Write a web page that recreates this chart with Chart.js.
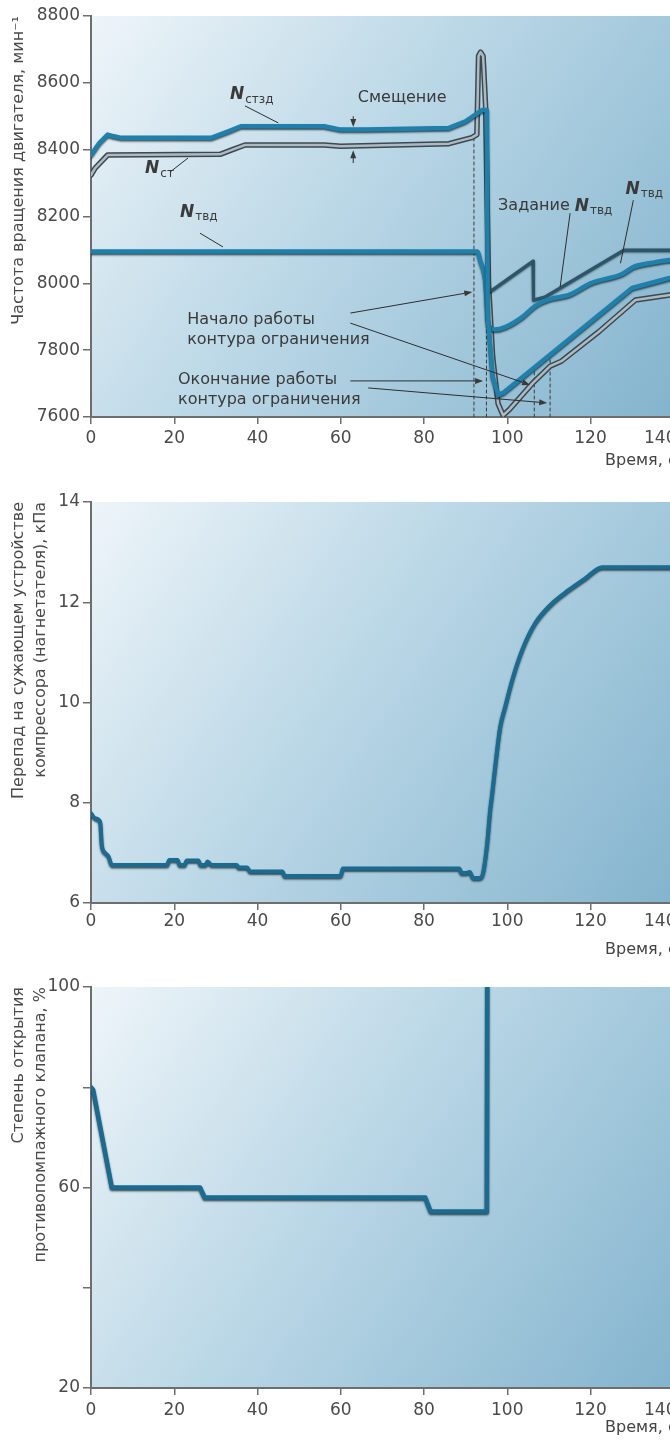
<!DOCTYPE html>
<html>
<head>
<meta charset="utf-8">
<script src="https://cdn.jsdelivr.net/npm/chart.js@4.4.0/dist/chart.umd.min.js"></script>
<style>
html, body { margin: 0; padding: 0; background: #fff; width: 670px; height: 1445px; overflow: hidden; }
.box { position: absolute; left: 0; }
</style>
</head>
<body>
<div class="box" style="top:0px"><canvas id="speedChart" width="780" height="480"></canvas></div>
<div class="box" style="top:480px"><canvas id="dpChart" width="780" height="480"></canvas></div>
<div class="box" style="top:960px"><canvas id="valveChart" width="780" height="485"></canvas></div>
<script>
// ticks
const xTicks = [0, 20, 40, 60, 80, 100, 120, 140];
const speedTicks = [7600, 7800, 8000, 8200, 8400, 8600, 8800];
const dpTicks = [6, 8, 10, 12, 14];
const valveTicks = [20, 40, 60, 80, 100];
const valveLabels = [20, 60, 100];

// N_стзд (setpoint of power turbine speed)
const tStzd = [0, 2, 4, 5.5, 7, 29, 33, 36, 56, 60, 66, 86, 90, 94, 95.1, 95.3, 96.5, 97.8, 99, 130, 139, 160];
const nStzd = [8384, 8420, 8445, 8440, 8436, 8436, 8455, 8470, 8470, 8460, 8460, 8465, 8485, 8519, 8519, 7900, 7720, 7666, 7672, 7986, 8016, 8050];
// N_ст (power turbine speed)
const tSt = [0, 1, 4, 31, 34, 37, 56, 60, 86, 91.5, 92.7, 93.1, 93.6, 94.2, 94.8, 95.5, 96.5, 97.8, 99, 100.5, 106, 110.3, 113, 122, 130.8, 139, 160];
const nSt = [8324, 8345, 8384, 8386, 8400, 8414, 8414, 8410, 8418, 8436, 8445, 8680, 8692, 8680, 8530, 8000, 7780, 7640, 7605, 7622, 7700, 7752, 7767, 7855, 7950, 7965, 7990];
// N_твд
const tTvd = [0, 92.8, 93.6, 94.7, 95.5, 97, 99.5, 103.6, 107, 110, 115, 120, 127.6, 130.5, 135, 139, 160];
const nTvd = [8095, 8095, 8065, 8010, 7875, 7862, 7869, 7899, 7935, 7952, 7966, 8000, 8028, 8050, 8062, 8070, 8090];
// Задание N_твд
const tZad = [95.4, 96.4, 106.2, 106.3, 109, 128, 160];
const nZad = [7975, 7980, 8067, 7950, 7959, 8100, 8100];
// dashed markers of the limiter
const markT = [92, 95, 106.5, 110.3];
const markTop = [8440, 8095, 7745, 7795];

// pressure drop, kPa
const tDp = [0, 1, 2.2, 2.6, 3.4, 4.2, 5, 18.3, 18.8, 20.8, 21.3, 22.5, 23, 25.8, 26.3, 27.5, 28, 29, 35, 35.5, 37.5, 38.2, 46, 46.5, 60, 60.5, 88.5, 89, 90.2, 91, 91.8, 93.4, 94.2, 95.2, 95.9, 96.4, 97.1, 98.3, 99.5, 101.2, 103.6, 106.7, 110.8, 114.7, 118.8, 122.8, 160];
const dp = [7.79, 7.69, 7.62, 7.15, 7.0, 6.93, 6.76, 6.76, 6.86, 6.86, 6.76, 6.76, 6.85, 6.85, 6.76, 6.76, 6.83, 6.76, 6.76, 6.71, 6.71, 6.63, 6.63, 6.54, 6.54, 6.69, 6.69, 6.6, 6.6, 6.62, 6.5, 6.5, 6.6, 7.2, 7.85, 8.19, 8.71, 9.51, 9.91, 10.45, 11.05, 11.58, 11.98, 12.24, 12.48, 12.7, 12.7];

// antisurge valve opening, %
const tValve = [0, 0.5, 5, 26.2, 27.3, 80.3, 81.6, 95.1, 95.2];
const valve = [80, 79.5, 60, 60, 58, 58, 55.2, 55.2, 100];

const FONT = 'DejaVu Sans';
Chart.defaults.font.family = FONT;

function pts(ts, vs) {
    return ts.map(function (t, i) { return {x: t, y: vs[i]}; });
}

// text, leaders and arrows, positions in data units
const notes = {
    speedChart: {
        texts: [
            {x: 23.1, y: 7890, parts: [{s: 'Начало работы'}]},
            {x: 23.1, y: 7830, parts: [{s: 'контура ограничения'}]},
            {x: 20.9, y: 7711, parts: [{s: 'Окончание работы'}]},
            {x: 20.9, y: 7651, parts: [{s: 'контура ограничения'}]},
            {x: 64.1, y: 8555, parts: [{s: 'Смещение'}]},
            {x: 33.4, y: 8564, parts: [{s: 'N', it: true}, {s: 'стзд', sub: true}]},
            {x: 13, y: 8342, parts: [{s: 'N', it: true}, {s: 'ст', sub: true}]},
            {x: 21.4, y: 8213, parts: [{s: 'N', it: true}, {s: 'твд', sub: true}]},
            {x: 97.8, y: 8231, parts: [{s: 'Задание '}, {s: 'N', it: true}, {s: 'твд', sub: true}]},
            {x: 128.4, y: 8282, parts: [{s: 'N', it: true}, {s: 'твд', sub: true}]}
        ],
        lines: [
            [37, 8531, 45, 8480],
            [19, 8333, 23.3, 8375],
            [26.2, 8150, 31.7, 8109],
            [115.1, 8210, 112.7, 7989],
            [130.3, 8249, 127.2, 8060]
        ],
        arrows: [
            [62.3, 7911, 91.6, 7974],
            [62.3, 7881, 105.5, 7696],
            [62.3, 7708, 94.2, 7708],
            [66.6, 7687, 109.6, 7642],
            [63, 8500, 63, 8468],
            [63, 8360, 63, 8398]
        ],
        axisTitleX: 123.5, axisTitleY: 461
    },
    dpChart: {axisTitleX: 123.5, axisTitleY: 470},
    valveChart: {axisTitleX: 123.5, axisTitleY: 468}
};

const backdrop = {
    id: 'backdrop',
    beforeDraw(chart) {
        const {ctx, chartArea: a} = chart;
        const g = ctx.createLinearGradient(a.left, a.top, 670, a.bottom);
        g.addColorStop(0, '#eef5f9');
        g.addColorStop(0.45, '#bad7e6');
        g.addColorStop(1, '#84b4ce');
        ctx.save();
        ctx.fillStyle = g;
        ctx.fillRect(a.left, a.top, a.right - a.left, a.bottom - a.top);
        ctx.restore();
    }
};

const shadow = {
    id: 'shadow',
    beforeDatasetDraw(chart, args) {
        const ds = chart.data.datasets[args.index];
        if (ds.shadow) {
            chart.ctx.save();
            chart.ctx.shadowColor = 'rgba(5, 25, 35, 0.75)';
            chart.ctx.shadowOffsetY = ds.shadow;
            chart.ctx.shadowBlur = 2;
        }
    },
    afterDatasetDraw(chart, args) {
        if (chart.data.datasets[args.index].shadow) chart.ctx.restore();
    }
};

function drawParts(ctx, parts, px, py) {
    let cx = px;
    parts.forEach(function (p) {
        if (p.sub) {
            ctx.font = '12px ' + FONT;
            ctx.fillText(p.s, cx, py + 5);
        } else if (p.it) {
            ctx.font = 'italic bold 17px ' + FONT;
            ctx.fillText(p.s, cx, py);
        } else {
            ctx.font = '16px ' + FONT;
            ctx.fillText(p.s, cx, py);
        }
        cx += ctx.measureText(p.s).width + (p.it ? 1 : 0);
    });
}

const annotate = {
    id: 'annotate',
    afterDatasetsDraw(chart) {
        const n = notes[chart.canvas.id];
        if (!n) return;
        const ctx = chart.ctx, x = chart.scales.x, y = chart.scales.y;
        ctx.save();
        ctx.fillStyle = '#3a3a3a';
        ctx.strokeStyle = '#2e2e2e';
        ctx.lineWidth = 1;
        ctx.textBaseline = 'middle';
        ctx.textAlign = 'left';
        (n.texts || []).forEach(function (t) {
            drawParts(ctx, t.parts, x.getPixelForValue(t.x), y.getPixelForValue(t.y));
        });
        (n.lines || []).forEach(function (l) {
            ctx.beginPath();
            ctx.moveTo(x.getPixelForValue(l[0]), y.getPixelForValue(l[1]));
            ctx.lineTo(x.getPixelForValue(l[2]), y.getPixelForValue(l[3]));
            ctx.stroke();
        });
        (n.arrows || []).forEach(function (l) {
            const x0 = x.getPixelForValue(l[0]), y0 = y.getPixelForValue(l[1]);
            const x1 = x.getPixelForValue(l[2]), y1 = y.getPixelForValue(l[3]);
            const ang = Math.atan2(y1 - y0, x1 - x0);
            ctx.beginPath();
            ctx.moveTo(x0, y0);
            ctx.lineTo(x1 - 5 * Math.cos(ang), y1 - 5 * Math.sin(ang));
            ctx.stroke();
            ctx.beginPath();
            ctx.moveTo(x1, y1);
            ctx.lineTo(x1 - 8 * Math.cos(ang) + 3 * Math.sin(ang), y1 - 8 * Math.sin(ang) - 3 * Math.cos(ang));
            ctx.lineTo(x1 - 8 * Math.cos(ang) - 3 * Math.sin(ang), y1 - 8 * Math.sin(ang) + 3 * Math.cos(ang));
            ctx.closePath();
            ctx.fill();
        });
        // x axis title
        ctx.fillStyle = '#444';
        ctx.font = '16px ' + FONT;
        ctx.fillText('Время, с', x.getPixelForValue(n.axisTitleX), n.axisTitleY);
        ctx.restore();
    }
};

function axes(o) {
    return {
        x: {
            type: 'linear', min: 0, max: 160,
            afterBuildTicks: function (s) { s.ticks = xTicks.map(function (v) { return {value: v}; }); },
            afterFit: function (s) { s.height = o.xh; },
            ticks: {
                color: '#4a4a4a', font: {size: 17}, padding: o.xpad, maxRotation: 0,
                // last label sits a little left of its tick in the picture
                callback: function (v) { return v === 140 ? '140\u00a0\u00a0\u00a0\u00a0\u00a0' : String(v); }
            },
            grid: {drawOnChartArea: false, tickLength: 7, color: '#6e6e6e', lineWidth: 1.5},
            border: {color: '#6e6e6e', width: 2}
        },
        y: {
            type: 'linear', min: o.min, max: o.max,
            afterBuildTicks: function (s) { s.ticks = o.ticks.map(function (v) { return {value: v}; }); },
            afterFit: function (s) { s.width = 91; },
            ticks: {
                color: '#4a4a4a', font: {size: 17}, padding: 3,
                callback: function (v) { return (!o.labels || o.labels.indexOf(v) >= 0) ? String(v) : ''; }
            },
            grid: {drawOnChartArea: false, tickLength: 8, color: '#6e6e6e', lineWidth: 1.5},
            border: {color: '#6e6e6e', width: 2},
            title: {
                display: true, text: o.title, align: 'end', color: '#4a4a4a',
                font: {size: 16, lineHeight: 1.375}, padding: {top: 8, bottom: 0}
            }
        }
    };
}

function makeChart(id, datasets, o) {
    return new Chart(document.getElementById(id), {
        type: 'line',
        data: {datasets: datasets},
        options: {
            responsive: false,
            animation: false,
            events: [],
            layout: {padding: {top: o.top, right: 23, left: 0, bottom: 0}},
            plugins: {legend: {display: false}, tooltip: {enabled: false}},
            elements: {point: {radius: 0}, line: {borderJoinStyle: 'round', borderCapStyle: 'round'}},
            scales: axes(o)
        },
        plugins: [backdrop, shadow, annotate]
    });
}

// chart 1: speeds
const speedSets = markT.map(function (t, i) {
    return {data: pts([t, t], [7600, markTop[i]]), borderColor: '#3a3a3a', borderWidth: 1, borderDash: [3, 3], order: 10};
});
speedSets.push(
    {data: pts(tSt, nSt), borderColor: '#3b4950', borderWidth: 5.5, tension: 0, order: 6},
    {data: pts(tSt, nSt), borderColor: '#aebac1', borderWidth: 2.5, tension: 0, order: 5},
    {data: pts(tZad, nZad), borderColor: '#2c5667', borderWidth: 3, tension: 0, shadow: 1, order: 4},
    {data: pts(tTvd, nTvd), borderColor: '#1f80ab', borderWidth: 4.5, cubicInterpolationMode: 'monotone', shadow: 1.5, order: 3},
    {data: pts(tStzd, nStzd), borderColor: '#1f80ab', borderWidth: 4.5, tension: 0, shadow: 1.5, order: 2}
);
makeChart('speedChart', speedSets, {
    min: 7600, max: 8800, ticks: speedTicks, top: 16, xh: 63, xpad: 4,
    title: 'Частота вращения двигателя, мин⁻¹'
});

// chart 2: pressure drop
makeChart('dpChart', [
    {data: pts(tDp, dp), borderColor: '#1b6a8f', borderWidth: 4, cubicInterpolationMode: 'monotone', shadow: 1.5}
], {
    min: 6, max: 14, ticks: dpTicks, top: 22, xh: 57, xpad: 1,
    title: ['Перепад на сужающем устройстве', 'компрессора (нагнетателя), кПа']
});

// chart 3: antisurge valve
makeChart('valveChart', [
    {data: pts(tValve, valve), borderColor: '#1b6a8f', borderWidth: 4.5, tension: 0, shadow: 1.5}
], {
    min: 20, max: 100, ticks: valveTicks, labels: valveLabels, top: 27, xh: 57, xpad: 5,
    title: ['Степень открытия', 'противопомпажного клапана, %']
});
</script>
</body>
</html>
